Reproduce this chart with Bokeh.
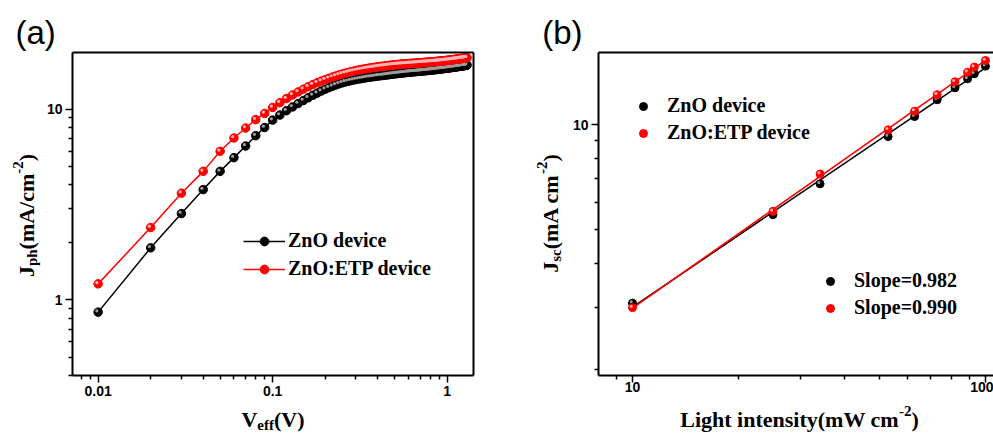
import numpy as np
from bokeh.plotting import figure
from bokeh.layouts import row
from bokeh.models import (FixedTicker, PrintfTickFormatter, Label, Legend, LegendItem, LogAxis)
from bokeh.embed import file_html
from bokeh.resources import INLINE

# ---------------- data: (a) photocurrent vs effective voltage ----------------
V_EFF = [round(0.01 * k, 2) for k in range(1, 131)]  # 0.01 ... 1.30 V

JPH_ZNO = [
    0.86, 1.87, 2.83, 3.78, 4.71, 5.56, 6.40, 7.25, 8.00, 8.75,
    9.30, 9.80, 10.26, 10.69, 11.09, 11.46, 11.80, 12.12, 12.42, 12.70,
    12.95, 13.18, 13.38, 13.56, 13.72, 13.86, 13.98, 14.09, 14.19, 14.28,
    14.36, 14.44, 14.51, 14.58, 14.64, 14.70, 14.75, 14.80, 14.85, 14.90,
    14.94, 14.98, 15.02, 15.06, 15.10, 15.14, 15.18, 15.22, 15.26, 15.30,
    15.33, 15.36, 15.39, 15.42, 15.45, 15.48, 15.51, 15.54, 15.57, 15.60,
    15.62, 15.64, 15.66, 15.68, 15.70, 15.72, 15.74, 15.76, 15.78, 15.80,
    15.82, 15.84, 15.86, 15.88, 15.90, 15.92, 15.94, 15.96, 15.98, 16.00,
    16.02, 16.04, 16.06, 16.08, 16.10, 16.12, 16.14, 16.16, 16.18, 16.20,
    16.22, 16.24, 16.26, 16.28, 16.30, 16.32, 16.34, 16.36, 16.38, 16.40,
    16.42, 16.44, 16.46, 16.48, 16.50, 16.52, 16.54, 16.56, 16.58, 16.60,
    16.62, 16.64, 16.66, 16.68, 16.70, 16.72, 16.74, 16.76, 16.78, 16.80,
    16.82, 16.84, 16.86, 16.88, 16.90, 16.92, 16.94, 16.96, 16.98, 17.00,
]

JPH_ETP = [
    1.21, 2.39, 3.62, 4.71, 6.00, 7.05, 7.95, 8.80, 9.49, 10.20,
    10.80, 11.35, 11.85, 12.30, 12.72, 13.10, 13.44, 13.75, 14.02, 14.26,
    14.50, 14.72, 14.92, 15.10, 15.27, 15.42, 15.56, 15.69, 15.81, 15.92,
    16.02, 16.11, 16.19, 16.27, 16.34, 16.41, 16.47, 16.53, 16.59, 16.64,
    16.69, 16.74, 16.79, 16.84, 16.88, 16.92, 16.96, 17.00, 17.04, 17.07,
    17.10, 17.13, 17.16, 17.19, 17.21, 17.23, 17.25, 17.27, 17.29, 17.31,
    17.33, 17.35, 17.37, 17.38, 17.40, 17.42, 17.44, 17.45, 17.47, 17.49,
    17.50, 17.52, 17.54, 17.56, 17.57, 17.59, 17.61, 17.62, 17.64, 17.66,
    17.67, 17.69, 17.71, 17.73, 17.74, 17.76, 17.78, 17.79, 17.81, 17.83,
    17.84, 17.86, 17.88, 17.90, 17.91, 17.93, 17.95, 17.96, 17.98, 18.00,
    18.02, 18.04, 18.06, 18.08, 18.10, 18.12, 18.14, 18.16, 18.18, 18.20,
    18.22, 18.24, 18.26, 18.28, 18.30, 18.32, 18.34, 18.36, 18.38, 18.40,
    18.42, 18.44, 18.46, 18.48, 18.50, 18.52, 18.54, 18.56, 18.58, 18.60,
]

# ---------------- data: (b) Jsc vs light intensity ----------------
INTENSITY = [10, 25, 34, 53, 63, 73, 82, 89, 93, 100]
JSC_ZNO = [3.09, 5.53, 6.77, 9.24, 10.54, 11.77, 12.73, 13.51, 13.96, 14.68]
JSC_ETP = [3.00, 5.65, 7.22, 9.66, 10.92, 12.17, 13.25, 14.11, 14.59, 15.24]
SLOPE_LABELS = ["Slope=0.982", "Slope=0.990"]
SERIES_LABELS = ["ZnO device", "ZnO:ETP device"]

# axis extents and tick positions
A_XLIM, A_YLIM = (0.00713, 1.415), (0.40, 19.8)
B_XLIM, B_YLIM = (8.01, 105.4), (1.92, 16.06)
A_X_MAJOR = [0.01, 0.1, 1]
A_X_MINOR = [0.008, 0.009, 0.02, 0.03, 0.04, 0.05, 0.06, 0.07, 0.08, 0.09,
             0.2, 0.3, 0.4, 0.5, 0.6, 0.7, 0.8, 0.9]
A_Y_MAJOR = [1, 10]
A_Y_MINOR = [0.4, 0.5, 0.6, 0.7, 0.8, 0.9, 2, 3, 4, 5, 6, 7, 8, 9]
B_X_MAJOR = [10, 100]
B_X_MINOR = [9, 20, 30, 40, 50, 60, 70, 80, 90]
B_Y_MAJOR = [10]
B_Y_MINOR = [2, 3, 4, 5, 6, 7, 8, 9]

RED = "#ff0000"
SERIF = "Liberation Serif"
SANS = "Liberation Sans"
H = 436

# advance widths (em) of Times-style bold glyphs, used to chain text runs
TB = {'J': .5, 'p': .556, 'h': .556, '(': .333, ')': .333, 'm': .833, 'A': .722,
      '/': .278, 'c': .444, '-': .333, '2': .5, 'V': .722, 'e': .444, 'f': .333,
      's': .389, 'L': .667, 'i': .278, 'g': .5, 't': .333, 'n': .556, 'y': .5,
      'W': 1.0, ' ': .25}


def run_width(text, size):
    return sum(TB.get(ch, .5) for ch in text) * size


def rich_title(fig, pieces, x, y, angle=0.0):
    """Centred title made of (text, size, baseline shift) runs; x, y in canvas px
    from the top-left corner."""
    total = sum(run_width(t, s) for t, s, _ in pieces)
    adv = -total / 2
    for text, size, shift in pieces:
        if angle == 0:
            lx, ly = x + adv, (H - y) + shift
        else:
            lx, ly = x - shift, (H - y) + adv
        fig.add_layout(Label(x=lx, y=ly, x_units="screen", y_units="screen",
                             text=text, angle=angle, text_font=SERIF,
                             text_font_size=f"{size}px", text_font_style="bold",
                             text_color="black", text_align="left",
                             text_baseline="alphabetic"))
        adv += run_width(text, size)


def panel(width, xlim, ylim, box_px, box_py):
    """Log-log figure whose frame is the whole canvas; the plot box (xlim, ylim)
    sits at pixel columns box_px and rows box_py. Returns (fig, px/decade x, y)."""
    lx0, lx1 = np.log10(xlim)
    ly0, ly1 = np.log10(ylim)
    dx = (box_px[1] - box_px[0]) / (lx1 - lx0)
    dy = (box_py[1] - box_py[0]) / (ly1 - ly0)
    xr = (10 ** (lx0 - box_px[0] / dx), 10 ** (lx0 + (width - box_px[0]) / dx))
    yr = (10 ** (ly0 - (H - box_py[1]) / dy), 10 ** (ly1 + box_py[0] / dy))
    fig = figure(width=width, height=H, x_axis_type="log", y_axis_type="log",
                 x_range=xr, y_range=yr, title=None, output_backend="svg",
                 toolbar_location=None, min_border=0, min_border_left=0,
                 min_border_right=0, min_border_top=0, min_border_bottom=0)
    fig.outline_line_color = None
    fig.grid.visible = False
    fig.xaxis.fixed_location = ylim[0]
    fig.xaxis.bounds = xlim
    fig.yaxis.fixed_location = xlim[0]
    fig.yaxis.bounds = ylim
    for ax in (fig.xaxis[0], fig.yaxis[0]):
        ax.axis_line_width = 2
        ax.axis_line_color = "black"
        ax.major_tick_line_width = 1.5
        ax.minor_tick_line_width = 1.5
        ax.major_tick_in = 0
        ax.major_tick_out = 7
        ax.minor_tick_in = 0
        ax.minor_tick_out = 4
        ax.major_label_text_font = SANS
        ax.major_label_text_font_style = "bold"
        ax.major_label_text_font_size = "14px"
        ax.major_label_text_color = "black"
        ax.formatter = PrintfTickFormatter(format="%g")
    return fig, dx, dy


def frame_edge(fig, place, loc, bounds):
    """Plain black edge line (no ticks) closing the plot box."""
    fig.add_layout(LogAxis(fixed_location=loc, bounds=bounds,
                           ticker=FixedTicker(ticks=[]), axis_line_width=2,
                           axis_line_color="black", major_tick_out=0,
                           minor_tick_out=0, major_label_text_font_size="0px"),
                   place)


def ball(fig, x, y, size, color, shine, dx, dy):
    """Glossy sphere marker: body plus a small offset highlight."""
    body = fig.scatter(x, y, size=size, fill_color=color, line_color=color)
    hx = np.asarray(x, dtype=float) * 10 ** (-1.3 / dx)
    hy = np.asarray(y, dtype=float) * 10 ** (1.3 / dy)
    fig.scatter(hx, hy, size=size * 0.38, fill_color=shine, line_color=None)
    return body


# ================= panel (a) =================
pa, adx, ady = panel(497, A_XLIM, A_YLIM, (72, 473), (52, 375))
pa.xaxis.ticker = FixedTicker(ticks=A_X_MAJOR, minor_ticks=A_X_MINOR)
pa.yaxis.ticker = FixedTicker(ticks=A_Y_MAJOR, minor_ticks=A_Y_MINOR)
pa.xaxis.major_label_standoff = 3
pa.yaxis.major_label_standoff = 3
frame_edge(pa, "above", A_YLIM[1], A_XLIM)
frame_edge(pa, "right", A_XLIM[1], A_YLIM)

la0 = pa.line(V_EFF, JPH_ZNO, line_color="black", line_width=1.5)
sa0 = ball(pa, V_EFF, JPH_ZNO, 8.5, "black", "#9c9c9c", adx, ady)
la1 = pa.line(V_EFF, JPH_ETP, line_color=RED, line_width=1.5)
sa1 = ball(pa, V_EFF, JPH_ETP, 8.5, RED, "#ffb3b3", adx, ady)

pa.add_layout(Legend(items=[LegendItem(label=SERIES_LABELS[0], renderers=[la0, sa0]),
                            LegendItem(label=SERIES_LABELS[1], renderers=[la1, sa1])],
                     location=(243, 156), glyph_width=42, glyph_height=22,
                     label_height=22, spacing=5, padding=0, margin=0,
                     label_standoff=3, border_line_color=None,
                     background_fill_alpha=0, label_text_font=SERIF,
                     label_text_font_style="bold", label_text_font_size="20px",
                     label_text_color="black"))

pa.add_layout(Label(x=15, y=H - 32, x_units="screen", y_units="screen", text="(a)",
                    text_font=SANS, text_font_size="33px", text_color="black",
                    text_baseline="alphabetic"))
rich_title(pa, [("V", 22, 0), ("eff", 15, -5), ("(V)", 22, 0)], 272.5, 419)
rich_title(pa, [("J", 22, 0), ("ph", 15, -5), ("(mA/cm", 22, 0), ("-2", 15, 9),
                (")", 22, 0)], 26, 215, angle=np.pi / 2)

# ================= panel (b) =================
pb, bdx, bdy = panel(496, B_XLIM, B_YLIM, (101, 496), (52, 375))
pb.xaxis.ticker = FixedTicker(ticks=B_X_MAJOR, minor_ticks=B_X_MINOR)
pb.yaxis.ticker = FixedTicker(ticks=B_Y_MAJOR, minor_ticks=B_Y_MINOR)
pb.xaxis.major_label_standoff = -1
pb.yaxis.major_label_standoff = 3
frame_edge(pb, "above", B_YLIM[1], B_XLIM)

# power-law fits (straight lines on log-log axes)
x_fit = np.array([min(INTENSITY), max(INTENSITY)], dtype=float)
for jsc, col in ((JSC_ZNO, "black"), (JSC_ETP, RED)):
    k, b = np.polyfit(np.log10(INTENSITY), np.log10(jsc), 1)
    pb.line(x_fit, 10 ** (b + k * np.log10(x_fit)), line_color=col, line_width=1.6)

sb0 = ball(pb, INTENSITY, JSC_ZNO, 8, "black", "#9c9c9c", bdx, bdy)
sb1 = ball(pb, INTENSITY, JSC_ETP, 8, RED, "#ffb3b3", bdx, bdy)

legend_kw = dict(glyph_width=20, glyph_height=22, label_height=22, spacing=4,
                 padding=0, margin=0, label_standoff=14, border_line_color=None,
                 background_fill_alpha=0, label_text_font=SERIF,
                 label_text_font_style="bold", label_text_font_size="20px",
                 label_text_color="black")
pb.add_layout(Legend(items=[LegendItem(label=SERIES_LABELS[0], renderers=[sb0]),
                            LegendItem(label=SERIES_LABELS[1], renderers=[sb1])],
                     location=(136, 292), **legend_kw))
pb.add_layout(Legend(items=[LegendItem(label=SLOPE_LABELS[0], renderers=[sb0]),
                            LegendItem(label=SLOPE_LABELS[1], renderers=[sb1])],
                     location=(323, 117), **legend_kw))

pb.add_layout(Label(x=44.7, y=H - 32, x_units="screen", y_units="screen", text="(b)",
                    text_font=SANS, text_font_size="33px", text_color="black",
                    text_baseline="alphabetic"))
rich_title(pb, [("Light intensity(mW cm", 22, 0), ("-2", 15, 9), (")", 22, 0)],
           302, 419)
rich_title(pb, [("J", 22, 0), ("sc", 15, -5), ("(mA cm", 22, 0), ("-2", 15, 9),
                (")", 22, 0)], 53, 213, angle=np.pi / 2)

layout = row(pa, pb)
open("out.html", "w").write(file_html(layout, INLINE))
